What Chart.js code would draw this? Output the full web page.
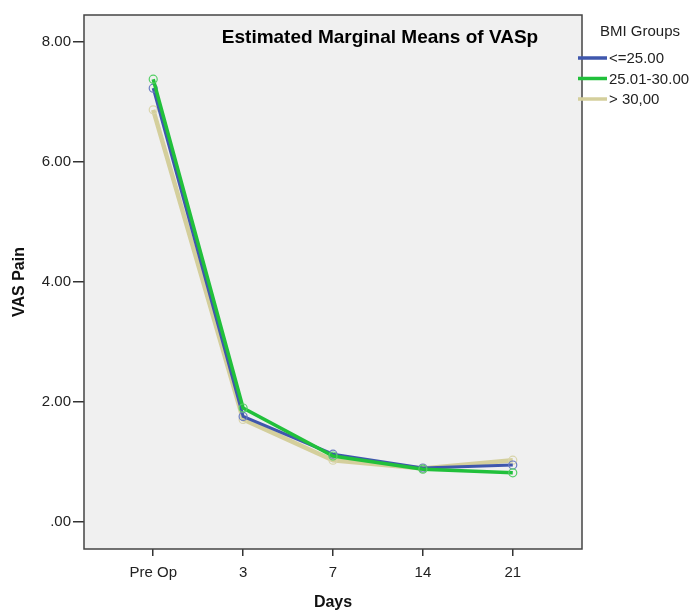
<!DOCTYPE html>
<html>
<head>
<meta charset="utf-8">
<script src="https://cdn.jsdelivr.net/npm/chart.js@4/dist/chart.umd.min.js"></script>
<style>
  html, body { margin: 0; padding: 0; background: #fff; }
  #wrap { width: 696px; height: 613px; }
</style>
</head>
<body>
<div id="wrap"><canvas id="chart" width="696" height="613"></canvas></div>
<script>
// ============================================================
// Data
// ============================================================
const dayLabels = ['Pre Op', '3', '7', '14', '21'];
const groupNames = ['<=25.00', '25.01-30.00', '> 30,00'];
const bmiLow  = [7.23, 1.76, 1.13, 0.90, 0.95];
const bmiMid  = [7.38, 1.90, 1.10, 0.88, 0.82];
const bmiHigh = [6.87, 1.71, 1.03, 0.89, 1.03];
const yTicks  = [0, 2, 4, 6, 8];

const FONT = '"Liberation Sans", Arial, sans-serif';

function series(values) {
  return values.map((v, i) => ({ x: i, y: v }));
}

// plot box, title and legend drawn around the chart area
const boxPlugin = {
  id: 'box',
  beforeDraw(chart) {
    const { ctx, chartArea: a } = chart;
    ctx.save();
    ctx.fillStyle = '#f0f0f0';
    ctx.fillRect(a.left, a.top, a.right - a.left, a.bottom - a.top);
    ctx.restore();
  },
  afterDraw(chart) {
    const { ctx, chartArea: a } = chart;
    ctx.save();
    ctx.strokeStyle = '#444';
    ctx.lineWidth = 1.5;
    ctx.strokeRect(a.left, a.top, a.right - a.left, a.bottom - a.top);

    ctx.fillStyle = '#000';
    ctx.font = 'bold 19px ' + FONT;
    ctx.textAlign = 'center';
    ctx.textBaseline = 'middle';
    ctx.fillText('Estimated Marginal Means of VASp', 380, 38);

    // legend
    ctx.font = '15px ' + FONT;
    ctx.fillStyle = '#222';
    ctx.fillText('BMI Groups', 640, 32);
    ctx.textAlign = 'left';
    [0, 1, 2].forEach((k, i) => {
      const ds = chart.data.datasets[k];
      const y = 58 + i * 20.5;
      ctx.strokeStyle = ds.borderColor;
      ctx.lineWidth = 3.5;
      ctx.beginPath();
      ctx.moveTo(578, y);
      ctx.lineTo(607, y);
      ctx.stroke();
      ctx.fillStyle = '#222';
      ctx.fillText(ds.label, 609, y + 1);
    });
    ctx.restore();
  }
};

new Chart(document.getElementById('chart'), {
  type: 'line',
  data: {
    datasets: [
      { label: groupNames[0], data: series(bmiLow), borderColor: '#3f57ad', borderWidth: 3,
        pointBorderColor: '#6a7cc2', order: 1 },
      { label: groupNames[1], data: series(bmiMid), borderColor: '#21c03b', borderWidth: 3.5,
        pointBorderColor: '#55cf66', order: 0 },
      { label: groupNames[2], data: series(bmiHigh), borderColor: '#d4cf9c', borderWidth: 4.5,
        pointBorderColor: '#d9d5ac', order: 2 }
    ].map(d => Object.assign(d, {
      pointRadius: 4, pointBorderWidth: 1.2, pointBackgroundColor: 'rgba(0,0,0,0)',
      pointHoverRadius: 4, tension: 0, fill: false
    }))
  },
  options: {
    responsive: false,
    animation: false,
    events: [],
    layout: { padding: { top: 15, right: 114, left: 0, bottom: 0 } },
    plugins: { legend: { display: false }, tooltip: { enabled: false } },
    scales: {
      x: {
        type: 'linear',
        min: -0.77,
        max: 4.77,
        afterBuildTicks: s => { s.ticks = dayLabels.map((_, i) => ({ value: i })); },
        afterFit: s => { s.height = 64; },
        grid: { drawOnChartArea: false, drawTicks: true, tickLength: 7, tickColor: '#333', lineWidth: 1.5 },
        border: { display: false },
        ticks: { color: '#222', padding: 8, font: { family: FONT, size: 15 },
                 callback: v => dayLabels[v] },
        title: { display: true, text: 'Days', color: '#111', padding: { top: 6, bottom: 1 },
                 font: { family: FONT, size: 16, weight: 'bold' } }
      },
      y: {
        min: -0.45,
        max: 8.45,
        afterBuildTicks: s => { s.ticks = yTicks.map(v => ({ value: v })); },
        afterFit: s => { s.width = 84; },
        grid: { drawOnChartArea: false, drawTicks: true, tickLength: 11, tickColor: '#333', lineWidth: 1.5 },
        border: { display: false },
        ticks: { color: '#222', padding: 2, font: { family: FONT, size: 15 },
                 callback: v => v === 0 ? '.00' : v.toFixed(2) },
        title: { display: true, text: 'VAS Pain', color: '#111', padding: { top: 10, bottom: 0 },
                 font: { family: FONT, size: 16, weight: 'bold' } }
      }
    }
  },
  plugins: [boxPlugin]
});
</script>
</body>
</html>
